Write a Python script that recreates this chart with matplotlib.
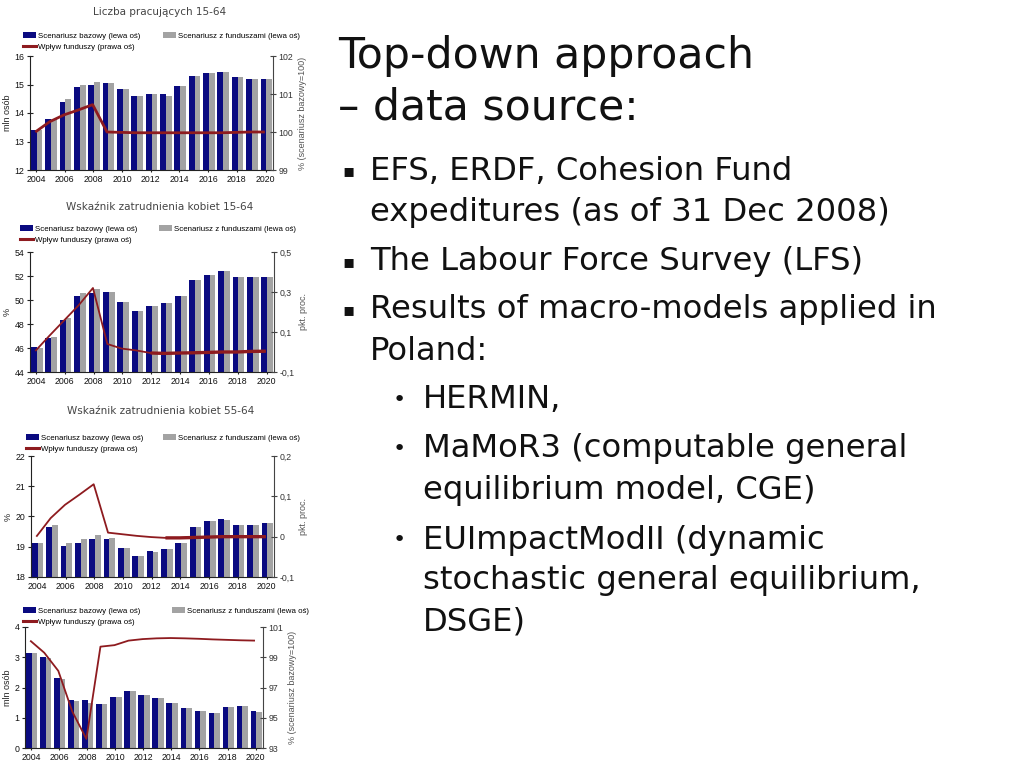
import numpy as np
import matplotlib.pyplot as plt
from matplotlib.patches import Patch
from matplotlib.lines import Line2D

years = np.arange(2004, 2021)
tick_years = np.arange(2004, 2021, 2)

# Liczba pracujących 15-64
prac_bazowy = [13.4, 13.8, 14.4, 14.9, 15.0, 15.05, 14.85, 14.6, 14.65, 14.65,
               14.95, 15.3, 15.4, 15.45, 15.25, 15.2, 15.2]
prac_fundusze = [13.4, 13.8, 14.5, 15.0, 15.1, 15.05, 14.85, 14.6, 14.65, 14.6,
                 14.95, 15.3, 15.4, 15.45, 15.25, 15.2, 15.2]
prac_wplyw = [100.0, 100.27, 100.45, 100.58, 100.72, 100.0, 99.99, 99.98, 99.98,
              99.98, 99.98, 99.98, 99.98, 99.98, 99.99, 100.0, 100.0]

# Wskaźnik zatrudnienia kobiet 15-64
k1564_bazowy = [46.1, 46.8, 48.35, 50.3, 50.6, 50.7, 49.85, 49.1, 49.5, 49.75,
                50.3, 51.7, 52.1, 52.4, 51.9, 51.9, 51.9]
k1564_fundusze = [46.0, 46.9, 48.5, 50.6, 50.9, 50.7, 49.85, 49.1, 49.5, 49.75,
                  50.3, 51.7, 52.1, 52.4, 51.9, 51.9, 51.9]
k1564_wplyw = [0.005, 0.083, 0.158, 0.233, 0.32, 0.04, 0.017, 0.008, -0.005, -0.007,
               -0.005, -0.004, -0.002, 0.0, 0.0, 0.003, 0.004]

# Wskaźnik zatrudnienia kobiet 55-64
k5564_bazowy = [19.12, 19.65, 19.03, 19.12, 19.25, 19.25, 18.97, 18.7, 18.85, 18.93,
                19.12, 19.65, 19.84, 19.93, 19.73, 19.73, 19.77]
k5564_fundusze = [19.12, 19.72, 19.12, 19.25, 19.4, 19.3, 18.97, 18.7, 18.83, 18.93,
                  19.12, 19.65, 19.84, 19.9, 19.73, 19.73, 19.77]
k5564_wplyw = [0.0, 0.046, 0.079, 0.104, 0.13, 0.01, 0.006, 0.002, -0.001, -0.003,
               -0.003, -0.002, -0.001, 0.0, 0.0, 0.0, 0.0]

# czwarty wykres (mln osób)
bez_bazowy = [3.15, 3.0, 2.33, 1.6, 1.6, 1.47, 1.68, 1.87, 1.74, 1.64,
              1.5, 1.32, 1.22, 1.15, 1.34, 1.38, 1.22]
bez_fundusze = [3.15, 2.97, 2.27, 1.54, 1.5, 1.44, 1.68, 1.87, 1.74, 1.64,
                1.5, 1.33, 1.22, 1.15, 1.34, 1.38, 1.2]
bez_wplyw = [100.1, 99.3, 98.1, 95.4, 93.6, 99.7, 99.8, 100.1, 100.2, 100.25,
             100.27, 100.25, 100.22, 100.18, 100.15, 100.12, 100.1]

leg_labels = ["Scenariusz bazowy (lewa oś)", "Scenariusz z funduszami (lewa oś)",
              "Wpływ funduszy (prawa oś)"]

BLUE = "#0a0a80"
GRAY = "#a3a3a3"
RED = "#8e1b1f"
W, H = 1024, 768

plt.rcParams['font.family'] = ['Liberation Sans', 'DejaVu Sans']

fig = plt.figure(figsize=(10.24, 7.68), dpi=100)


def fx(px):
    return px / W


def fy(py):
    return 1 - py / H


def chart(box, blue, gray, line, ylim, yticks, ylim2, yticks2, yticklabels2,
          ylabel, ylabel2, leg_y, leg_x, gray_x, title=None, title_y=None,
          lw=1.3, thick_from=None):
    x0, y0, x1, y1 = box
    ax = fig.add_axes([fx(x0), fy(y1), fx(x1 - x0), (y1 - y0) / H])
    ax.bar(years - 0.1, blue, width=0.4, color=BLUE, zorder=2)
    ax.bar(years + 0.3, gray, width=0.4, color=GRAY, zorder=2)
    ax.set_xlim(2004 - 0.37, 2020 + 0.57)
    ax.set_ylim(*ylim)
    ax.set_yticks(yticks)
    ax.set_xticks(tick_years + 0.05)
    ax.set_xticklabels([str(y) for y in tick_years])
    ax.tick_params(axis='both', labelsize=6.3, direction='inout', length=4,
                   width=0.8, color='#222222', labelcolor='#111111', pad=2)
    ax.tick_params(axis='x', length=3)
    for s in ['top', 'right']:
        ax.spines[s].set_visible(False)
    ax.spines['left'].set_color('#222222')
    ax.spines['bottom'].set_color('#222222')
    ax.set_ylabel(ylabel, fontsize=6.5, labelpad=2, color='#222222')

    ax2 = ax.twinx()
    ax2.plot(years, line, color=RED, lw=lw, solid_capstyle='butt')
    if thick_from is not None:
        ax2.plot(years[thick_from:], line[thick_from:], color=RED, lw=2.4,
                 solid_capstyle='butt')
    ax2.set_ylim(*ylim2)
    ax2.set_yticks(yticks2)
    ax2.set_yticklabels(yticklabels2)
    ax2.tick_params(axis='y', labelsize=6.3, direction='inout', length=4,
                    width=0.8, color='#444444', labelcolor='#333333', pad=2)
    for s in ['top', 'left', 'bottom']:
        ax2.spines[s].set_visible(False)
    ax2.spines['right'].set_color('#444444')
    ax2.set_ylabel(ylabel2, fontsize=6.5, labelpad=3, color='#555555')

    h_blue = Patch(facecolor=BLUE)
    h_gray = Patch(facecolor=GRAY)
    h_red = Line2D([], [], color=RED, lw=2.2)
    common = dict(loc='upper left', bbox_transform=fig.transFigure, frameon=False,
                  fontsize=5.7, handlelength=1.6, handleheight=0.8,
                  handletextpad=0.25, borderpad=0, borderaxespad=0,
                  labelspacing=0.4)
    leg1 = ax2.legend([h_blue, h_red], [leg_labels[0], leg_labels[2]],
                      bbox_to_anchor=(fx(leg_x), fy(leg_y)), **common)
    ax2.add_artist(leg1)
    ax2.legend([h_gray], [leg_labels[1]],
               bbox_to_anchor=(fx(gray_x), fy(leg_y)), **common)

    if title:
        fig.text(fx((x0 + x1) / 2 + 8), fy(title_y), title, ha='center', va='center',
                 fontsize=7.5, color='#444444', family='DejaVu Sans')
    return ax, ax2


chart((30, 56, 273, 170), prac_bazowy, prac_fundusze, prac_wplyw,
      (12, 16), [12, 13, 14, 15, 16], (99, 102), [99, 100, 101, 102],
      ["99", "100", "101", "102"], "mln osób", "% (scenariusz bazowy=100)",
      leg_y=32, leg_x=23, gray_x=163, title="Liczba pracujących 15-64",
      title_y=12, lw=2.0)

chart((30, 252, 274, 372), k1564_bazowy, k1564_fundusze, k1564_wplyw,
      (44, 54), [44, 46, 48, 50, 52, 54], (-0.1, 0.5), [-0.1, 0.1, 0.3, 0.5],
      ["-0,1", "0,1", "0,3", "0,5"], "%", "pkt. proc.",
      leg_y=225, leg_x=20, gray_x=159, title="Wskaźnik zatrudnienia kobiet 15-64",
      title_y=207, lw=1.3, thick_from=8)

chart((31, 456, 274, 577), k5564_bazowy, k5564_fundusze, k5564_wplyw,
      (18, 22), [18, 19, 20, 21, 22], (-0.1, 0.2), [-0.1, 0, 0.1, 0.2],
      ["-0,1", "0", "0,1", "0,2"], "%", "pkt. proc.",
      leg_y=434, leg_x=26, gray_x=163, title="Wskaźnik zatrudnienia kobiet 55-64",
      title_y=411, lw=1.3, thick_from=9)

chart((25, 627, 263, 748), bez_bazowy, bez_fundusze, bez_wplyw,
      (0, 4), [0, 1, 2, 3, 4], (93, 101), [93, 95, 97, 99, 101],
      ["93", "95", "97", "99", "101"], "mln osób", "% (scenariusz bazowy=100)",
      leg_y=607, leg_x=23, gray_x=172, lw=1.3)

# slide text
txt = dict(family='DejaVu Sans', color='#111111', va='center', ha='left')
fig.text(fx(338), fy(56), "Top-down approach", fontsize=30.7, **txt)
fig.text(fx(338), fy(107), "– data source:", fontsize=30.7, **txt)

body = [
    (171, "▪", "EFS, ERDF, Cohesion Fund", 0),
    (213, None, "expeditures (as of 31 Dec 2008)", 0),
    (262, "▪", "The Labour Force Survey (LFS)", 0),
    (310, "▪", "Results of macro-models applied in", 0),
    (351, None, "Poland:", 0),
    (400, "•", "HERMIN,", 1),
    (449, "•", "MaMoR3 (computable general", 1),
    (490, None, "equilibrium model, CGE)", 1),
    (540, "•", "EUImpactModII (dynamic", 1),
    (581, None, "stochastic general equilibrium,", 1),
    (622, None, "DSGE)", 1),
]
for y, bullet, text, level in body:
    tx = 370 if level == 0 else 423
    bx = 342 if level == 0 else 393
    if bullet:
        fig.text(fx(bx), fy(y), bullet, fontsize=13 if level == 0 else 16, **txt)
    fig.text(fx(tx), fy(y), text, fontsize=23.2, **txt)

fig.savefig("out.png", dpi=100)
